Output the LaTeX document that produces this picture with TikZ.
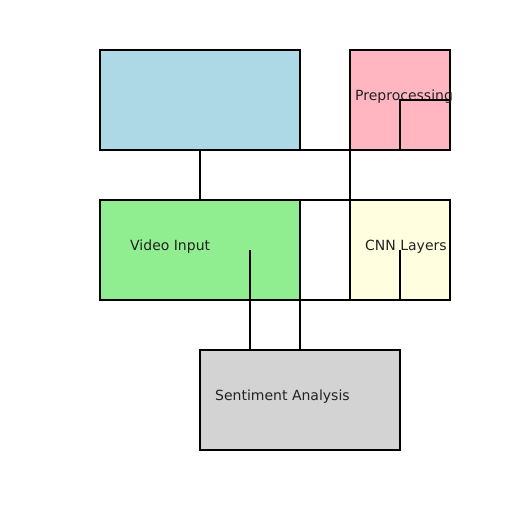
\documentclass[tikz,border=0pt]{standalone}
\usepackage{fontspec}
\setmainfont{DejaVu Sans}
\definecolor{cblue}{HTML}{ADD8E6}
\definecolor{cpink}{HTML}{FFB6C1}
\definecolor{cgreen}{HTML}{90EE90}
\definecolor{cyellow}{HTML}{FFFFE0}
\definecolor{cgray}{HTML}{D3D3D3}
\definecolor{ctext}{HTML}{222222}
\begin{document}
\begin{tikzpicture}[x=1pt,y=-1pt,
  box/.style={draw=black,line width=2pt,inner sep=0pt,outer sep=0pt,anchor=north west},
  wide/.style={box,minimum width=200pt,minimum height=100pt},
  narrow/.style={box,minimum width=100pt,minimum height=100pt},
  lbl/.style={anchor=base west,inner sep=0pt,text=ctext,font=\fontsize{14pt}{16pt}\selectfont},
  conn/.style={draw=black,line width=2pt}]
\useasboundingbox (0,0) rectangle (512,512);
\node[wide,fill=cblue] (blue) at (100,50) {};
\node[narrow,fill=cpink] (pink) at (350,50) {};
\node[wide,fill=cgreen] (green) at (100,200) {};
\node[narrow,fill=cyellow] (yellow) at (350,200) {};
\node[wide,fill=cgray] (gray) at (200,350) {};
\node[lbl] (t1) at (355,100) {Preprocessing};
\node[lbl] (t2) at (130,250) {Video Input};
\node[lbl] (t3) at (365,250) {CNN Layers};
\node[lbl] (t4) at (215,400) {Sentiment Analysis};
\coordinate (vi) at (250,250);
\draw[conn] (blue.south) -- (green.north);
\draw[conn] (blue.south east) -- (pink.south west) -- (yellow.north west);
\draw[conn] (green.north east) -- (yellow.north west);
\draw[conn] (green.south east) -- (yellow.south west);
\draw[conn] (vi) -- (vi |- gray.north);
\draw[conn] (green.south east) -- (gray.north);
\draw[conn] (yellow.center) -- (yellow.south);
\draw[conn] (pink.south) -- (pink.center) -- (pink.east);
\end{tikzpicture}
\end{document}
